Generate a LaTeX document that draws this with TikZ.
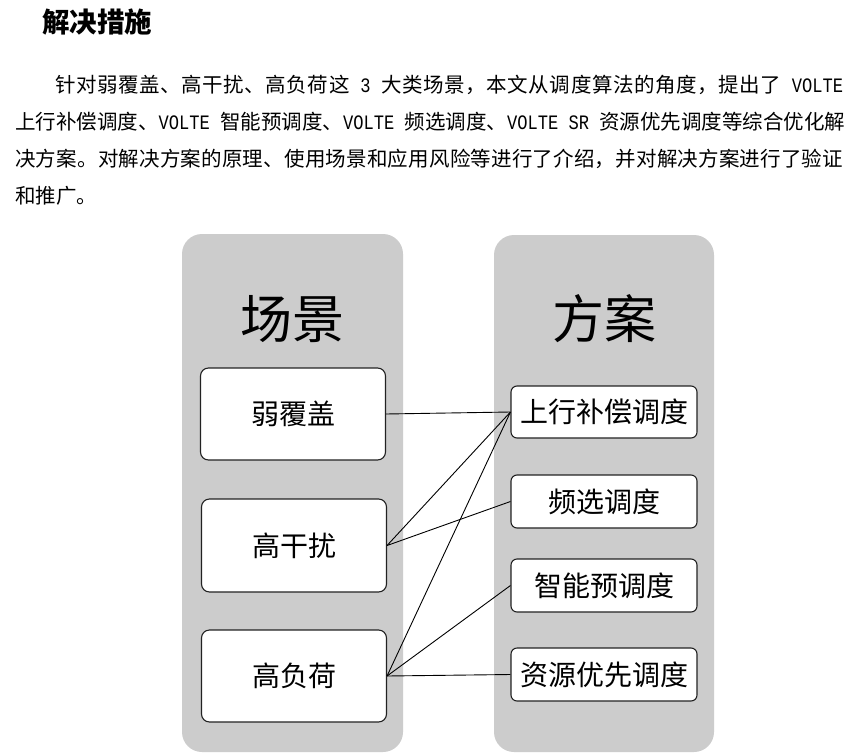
\documentclass[tikz,border=0pt]{standalone}
\usepackage{fontspec}
\newfontfamily\cjk{Noto Sans CJK SC}
\newfontfamily\mono[FakeStretch=0.833]{Liberation Mono}
\definecolor{panelgray}{HTML}{CCCCCC}
\definecolor{boxline}{HTML}{222222}
\newcommand\ptxt{\cjk\fontsize{20.5}{24}\selectfont}
\newcommand\hsp{\hspace*{10.25pt}}
\newcommand\lat[2]{\makebox[#1][l]{\mono #2}}
\makeatletter
\def\spr@endm{\spr@end}
\def\spr@#1{\def\spr@tmp{#1}\ifx\spr@tmp\spr@endm\else#1\hfil\expandafter\spr@\fi}
\newcommand\spreadline[2]{\hbox to #1{\spr@#2\spr@end\unskip}}
\makeatother
\begin{document}
\begin{tikzpicture}[x=1pt,y=-1pt,
  panel/.style={fill=panelgray, rounded corners=20pt, inner sep=0pt},
  lbox/.style={draw=boxline, line width=1.1pt, fill=white, rounded corners=8pt, inner sep=0pt,
    minimum width=185pt, minimum height=92pt, font=\cjk\fontsize{28}{30}\selectfont},
  rbox/.style={draw=boxline, line width=1.1pt, fill=white, rounded corners=6pt, inner sep=0pt,
    minimum width=186pt, minimum height=53pt, font=\cjk\fontsize{28}{30}\selectfont},
  head/.style={inner sep=0pt, font=\cjk\fontsize{52}{56}\selectfont},
  conn/.style={draw=black, line width=0.9pt},
  para/.style={anchor=west, inner sep=0pt}
  ]
\useasboundingbox (0,0) rectangle (858,754);
\fill[white] (0,0) rectangle (858,754);

% title
\node[para] (title) at (42,22) {\cjk\bfseries\fontsize{27.5}{30}\selectfont 解决措施};

% paragraph
\node[para] (p1) at (55,85) {\ptxt\spreadline{788pt}{针对弱覆盖、高干扰、高负荷这{\hsp\lat{10.25pt}{3}\hsp}大类场景，本文从调度算法的角度，提出了{\hsp\lat{51.25pt}{VOLTE}}}};
\node[para] (p2) at (15,122) {\ptxt\spreadline{828pt}{上行补偿调度、{\lat{51.25pt}{VOLTE}\hsp}智能预调度、{\lat{51.25pt}{VOLTE}\hsp}频选调度、{\lat{51.25pt}{VOLTE}\hsp\lat{20.5pt}{SR}\hsp}资源优先调度等综合优化解}};
\node[para] (p3) at (15,159) {\ptxt\spreadline{828pt}{决方案。对解决方案的原理、使用场景和应用风险等进行了介绍，并对解决方案进行了验证}};
\node[para] (p4) at (15,196) {\ptxt 和推广。};

% panels
\node[panel, minimum width=221pt, minimum height=518pt] (lp) at (292.5,493) {};
\node[panel, minimum width=220pt, minimum height=517pt] (rp) at (604,493.5) {};

% headers
\node[head] (h1) at (292.5,319) {场景};
\node[head] (h2) at (604,319) {方案};

% left boxes
\node[lbox] (b1) at (293,414) {弱覆盖};
\node[lbox, minimum height=93pt] (b2) at (294,545.5) {高干扰};
\node[lbox] (b3) at (294,676) {高负荷};

% right boxes
\node[rbox, minimum height=52pt] (r1) at (604,412) {上行补偿调度};
\node[rbox] (r2) at (604,501.5) {频选调度};
\node[rbox] (r3) at (604,585.5) {智能预调度};
\node[rbox] (r4) at (604,674.5) {资源优先调度};

% connectors
\draw[conn] (b1.east) -- (r1.west);
\draw[conn] (b2.east) -- (r1.west);
\draw[conn] (b2.east) -- (r2.west);
\draw[conn] (b3.east) -- (r1.west);
\draw[conn] (b3.east) -- (r3.west);
\draw[conn] (b3.east) -- (r4.west);
\end{tikzpicture}
\end{document}
